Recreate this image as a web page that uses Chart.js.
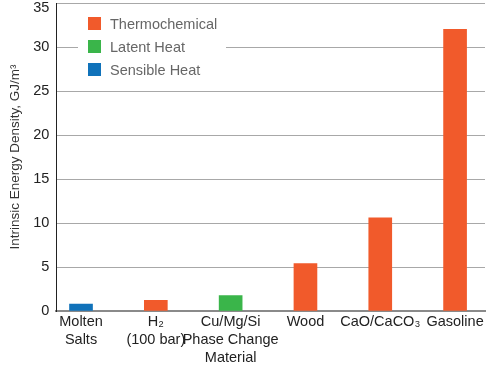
<!DOCTYPE html>
<html><head><meta charset="utf-8">
<script src="https://cdn.jsdelivr.net/npm/chart.js@4"></script>
<style>html,body{margin:0;padding:0;background:#fff}#wrap{width:486px;height:369px}</style>
</head><body><div id="wrap"><canvas id="c"></canvas></div>
<script>
const categories = [["Molten","Salts"],["H\u2082","(100 bar)"],["Cu/Mg/Si","Phase Change","Material"],["Wood"],["CaO/CaCO\u2083"],["Gasoline"]];
const values = [0.8, 1.2, 1.75, 5.4, 10.6, 32.0];
const storageType = ["Sensible Heat","Thermochemical","Latent Heat","Thermochemical","Thermochemical","Thermochemical"];
const seriesNames = ["Thermochemical","Latent Heat","Sensible Heat"];
const seriesColors = ["#F15A2B","#3AB54A","#1072BA"];
const yTicks = [0,5,10,15,20,25,30,35];

const datasets = seriesNames.map((name,si)=>({
  label: name,
  backgroundColor: seriesColors[si],
  data: values.map((v,i)=> storageType[i]===name ? {x:i, y:v} : null).filter(d=>d),
  barThickness: 23,
  grouped: false
}));

const FONT = "'Liberation Sans', Arial, Helvetica, sans-serif";

const insideLegend = {
  id:'insideLegend',
  afterDraw(chart){
    const ctx = chart.ctx;
    const ds = chart.data.datasets;
    ctx.save();
    ctx.fillStyle = '#fff';
    ctx.fillRect(78, 8, 148, 74);
    ctx.font = "14.5px " + FONT;
    ctx.textBaseline = 'middle';
    ds.forEach((d,i)=>{
      const y = 23.5 + i*23;
      ctx.fillStyle = d.backgroundColor;
      ctx.fillRect(88, y-6.5, 13, 13);
      ctx.fillStyle = '#666';
      ctx.fillText(d.label, 110, y+1);
    });
    ctx.restore();
  }
};

new Chart(document.getElementById('c'), {
  type:'bar',
  data:{datasets},
  options:{
    responsive:true, maintainAspectRatio:false, animation:false,
    layout:{padding:{top:0,right:1,left:3,bottom:0}},
    plugins:{legend:{display:false}, tooltip:{enabled:false}},
    scales:{
      x:{
        type:'linear', min:-0.33, max:5.4, offset:false,
        grid:{display:false, drawTicks:false},
        border:{color:'#8a8a8a', width:2},
        afterFit:(s)=>{ s.paddingLeft = 0; s.paddingRight = 0; },
        ticks:{
          stepSize:1, includeBounds:false, autoSkip:false, maxRotation:0,
          padding:2, color:'#222', font:{family:FONT, size:14.5, lineHeight:'18px'},
          callback:(v)=> Number.isInteger(v) && categories[v] ? categories[v] : ''
        }
      },
      y:{
        min:0, max:35,
        afterBuildTicks:(s)=>{ s.ticks = yTicks.map(v=>({value:v})); },
        afterFit:(s)=>{ s.paddingTop = 3; s.paddingBottom = 0; },
        grid:{color:'#a8a8a8', lineWidth:1, drawTicks:false},
        border:{color:'#222', width:1},
        ticks:{color:'#222', padding:7, font:{family:FONT, size:14.5, lineHeight:'9px'},
          callback:(v)=> v===35 ? ['', String(v)] : String(v)},
        title:{display:true, text:'Intrinsic Energy Density, GJ/m\u00B3', color:'#333', font:{family:FONT, size:13.5}, padding:{top:4,bottom:3}}
      }
    }
  },
  plugins:[insideLegend]
});
</script></body></html>
